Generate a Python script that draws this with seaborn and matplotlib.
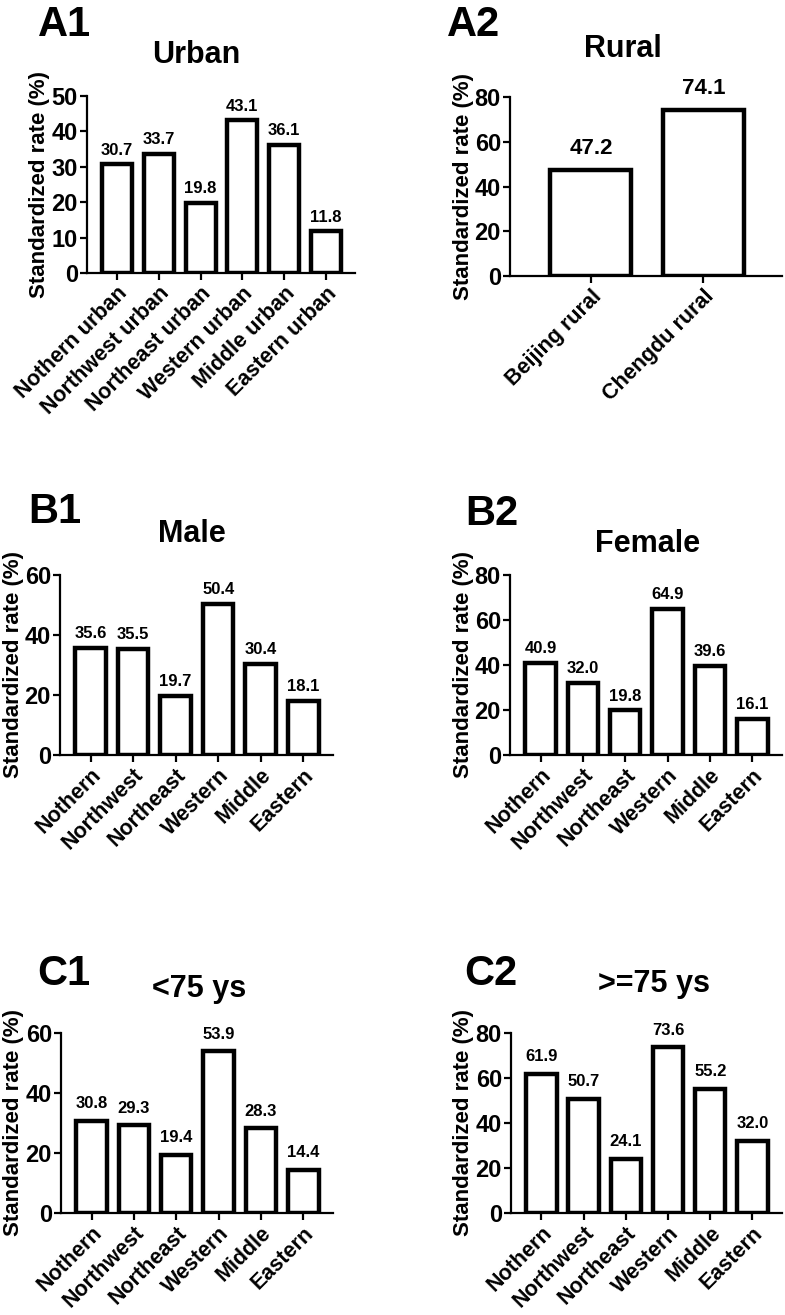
import matplotlib
matplotlib.use("Agg")
import matplotlib.pyplot as plt
import seaborn as sns
import pandas as pd

# data
urban_regions = ['Nothern urban', 'Northwest urban', 'Northeast urban',
                 'Western urban', 'Middle urban', 'Eastern urban']
urban_rate = [30.7, 33.7, 19.8, 43.1, 36.1, 11.8]

rural_regions = ['Beijing rural', 'Chengdu rural']
rural_rate = [47.2, 74.1]

regions = ['Nothern', 'Northwest', 'Northeast', 'Western', 'Middle', 'Eastern']
male_rate = [35.6, 35.5, 19.7, 50.4, 30.4, 18.1]
female_rate = [40.9, 32.0, 19.8, 64.9, 39.6, 16.1]
under75_rate = [30.8, 29.3, 19.4, 53.9, 28.3, 14.4]
over75_rate = [61.9, 50.7, 24.1, 73.6, 55.2, 32.0]

sns.set_style("ticks")
plt.rcParams['font.family'] = ['Liberation Sans', 'DejaVu Sans']
plt.rcParams['font.weight'] = 'bold'
plt.rcParams['axes.labelweight'] = 'bold'
plt.rcParams['axes.titleweight'] = 'bold'
for key in ['text.color', 'axes.labelcolor', 'xtick.color', 'ytick.color', 'axes.edgecolor']:
    plt.rcParams[key] = 'black'

W, H = 785, 1315
fig = plt.figure(figsize=(W / 100, H / 100), dpi=100)

# (tag, title, cats, values, ymax, ystep, box l/r/t/b px, title cx/baseline, tag x/baseline, ylabel x, label size, label gap)
panels = [
    ('A1', 'Urban', urban_regions, urban_rate, 50, 10, (87, 355, 96, 273), (196, 63), (38, 36), 40, 12, 7),
    ('A2', 'Rural', rural_regions, rural_rate, 80, 20, (510, 782, 97, 276), (623, 57), (447, 36), 464, 16, 12),
    ('B1', 'Male', regions, male_rate, 60, 20, (60, 333, 575, 755), (192, 542), (28, 523), 14, 12, 7),
    ('B2', 'Female', regions, female_rate, 80, 20, (510, 782, 575, 755), (648, 552), (465, 525), 464, 12, 7),
    ('C1', '<75 ys', regions, under75_rate, 60, 20, (61, 333, 1033, 1213), (199, 997), (37, 985), 14, 12, 9),
    ('C2', '>=75 ys', regions, over75_rate, 80, 20, (511, 782, 1033, 1213), (654, 992), (464, 985), 464, 12, 9),
]

for tag, title, cats, vals, ymax, ystep, box, tpos, tagpos, ylx, vsize, vgap in panels:
    l, r, t, b = box
    ax = fig.add_axes([l / W, 1 - b / H, (r - l) / W, (b - t) / H])
    df = pd.DataFrame({'region': cats, 'rate': vals})
    sns.barplot(data=df, x='region', y='rate', ax=ax, color='white',
                edgecolor='black', linewidth=3.2, width=0.72, errorbar=None,
                saturation=1)
    n = len(cats)
    ax.set_xlim(-0.72, n - 1 + 0.7)
    ax.set_ylim(0, ymax)
    ax.set_yticks(range(0, ymax + 1, ystep))
    sns.despine(ax=ax)
    for side in ['left', 'bottom']:
        ax.spines[side].set_linewidth(1.6)
    ax.tick_params(axis='both', width=1.6, length=5)
    ax.tick_params(axis='y', labelsize=17, pad=1.5)
    ax.tick_params(axis='x', labelsize=15.5, pad=2)
    plt.setp(ax.get_xticklabels(), rotation=45, ha='right', va='top',
             rotation_mode='anchor')
    ax.set_xlabel('')
    ax.set_ylabel('Standardized rate (%)', fontsize=16)
    ax.yaxis.set_label_coords(ylx / W, 1 - ((t + b) / 2) / H, transform=fig.transFigure)
    ax.yaxis.label.set_va('center')

    for i, v in enumerate(vals):
        ax.annotate(f'{v:.1f}', (i, v), xytext=(0, vgap), textcoords='offset points',
                    ha='center', va='baseline', fontsize=vsize, fontweight='bold')

    cx, by = tpos
    ax.set_title(title, fontsize=22, x=(cx - l) / (r - l), pad=(t - by) * 0.72)
    fig.text(tagpos[0] / W, 1 - tagpos[1] / H, tag, fontsize=30,
             fontweight='bold', ha='left', va='baseline')

fig.savefig('out.png', dpi=100)
